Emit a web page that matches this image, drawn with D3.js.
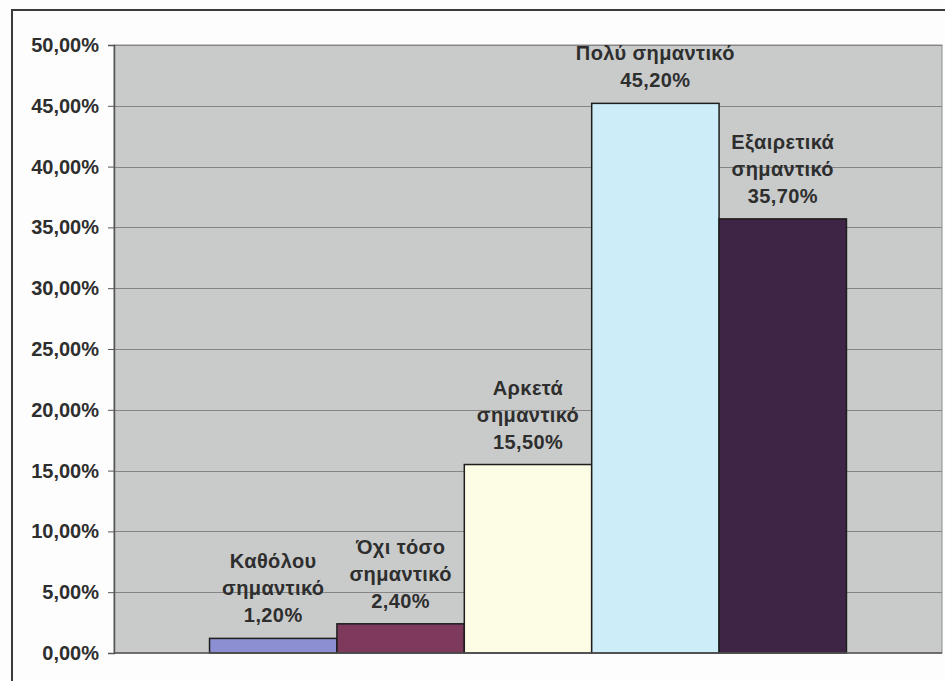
<!DOCTYPE html>
<html>
<head>
<meta charset="utf-8">
<script src="https://cdn.jsdelivr.net/npm/d3@7"></script>
<style>
  html, body { margin: 0; padding: 0; background: #fdfdfd; }
  svg { display: block; }
</style>
</head>
<body>
<svg id="chart" width="945" height="681"></svg>
<script>
const categories = ["Καθόλου σημαντικό", "Όχι τόσο σημαντικό", "Αρκετά σημαντικό", "Πολύ σημαντικό", "Εξαιρετικά σημαντικό"];
const labelLines = [
  ["Καθόλου", "σημαντικό"],
  ["Όχι τόσο", "σημαντικό"],
  ["Αρκετά", "σημαντικό"],
  ["Πολύ σημαντικό"],
  ["Εξαιρετικά", "σημαντικό"]
];
const values = [0.012, 0.024, 0.155, 0.452, 0.357];
const colors = ["#8c8fd2", "#7d3a5c", "#fdfde6", "#cdeef8", "#3e2546"];
const yTicks = [0, 0.05, 0.10, 0.15, 0.20, 0.25, 0.30, 0.35, 0.40, 0.45, 0.50];

const svg = d3.select("#chart");
const font = "'Liberation Sans', Arial, sans-serif";

// outer frame
svg.append("path")
  .attr("d", "M12,681 L12,10 L945,10")
  .attr("fill", "none").attr("stroke", "#3a3a3a").attr("stroke-width", 2);

const plot = { left: 114, top: 45, right: 942, bottom: 653 };
const W = plot.right - plot.left, H = plot.bottom - plot.top;

const g = svg.append("g").attr("transform", `translate(${plot.left},${plot.top})`);

const x = d3.scaleBand().domain(categories).range([0, W]).paddingInner(0).paddingOuter(0.75);
const y = d3.scaleLinear().domain([0, 0.5]).range([H, 0]);

const locale = d3.formatLocale({ decimal: ",", thousands: ".", grouping: [3], currency: ["", "€"] });
const pct = locale.format(".2%");

// plot background
g.append("rect").attr("x", 0).attr("y", 0).attr("width", W).attr("height", H)
  .attr("fill", "#c9cbcb").attr("stroke", "#8c8c8c").attr("stroke-width", 1);

// gridlines
g.append("g").selectAll("line").data(yTicks.filter(d => d > 0)).join("line")
  .attr("x1", 0).attr("x2", W)
  .attr("y1", d => Math.round(y(d)) + 0.5).attr("y2", d => Math.round(y(d)) + 0.5)
  .attr("stroke", "#858585").attr("stroke-width", 1);

// y axis
const yAxis = g.append("g").call(d3.axisLeft(y).tickValues(yTicks).tickFormat(pct).tickSize(6).tickPadding(9));
yAxis.select(".domain").attr("stroke", "#555").attr("stroke-width", 1.5);
yAxis.selectAll(".tick line").attr("stroke", "#555");
yAxis.selectAll("text").attr("font-family", font).attr("font-weight", "bold")
  .attr("font-size", 20).attr("fill", "#2e2e2e");

// bars
g.append("g").selectAll("rect").data(categories).join("rect")
  .attr("x", d => x(d))
  .attr("y", (d, i) => y(values[i]))
  .attr("width", x.bandwidth())
  .attr("height", (d, i) => H - y(values[i]))
  .attr("fill", (d, i) => colors[i])
  .attr("stroke", "#1e1e1e").attr("stroke-width", 1.5);

// bottom axis line
g.append("line").attr("x1", 0).attr("x2", W).attr("y1", H).attr("y2", H)
  .attr("stroke", "#555").attr("stroke-width", 1.5);

// data labels
const lineH = 27;
categories.forEach((c, i) => {
  const lines = labelLines[i].concat([pct(values[i])]);
  const cx = x(c) + x.bandwidth() / 2;
  const baseY = y(values[i]) - 16;
  const t = g.append("text")
    .attr("font-family", font).attr("font-weight", "bold").attr("font-size", 20)
    .attr("letter-spacing", 0.4)
    .attr("fill", "#2e2e2e").attr("text-anchor", "middle");
  lines.forEach((ln, j) => {
    t.append("tspan").attr("x", cx).attr("y", baseY - (lines.length - 1 - j) * lineH).text(ln);
  });
});
</script>
</body>
</html>
